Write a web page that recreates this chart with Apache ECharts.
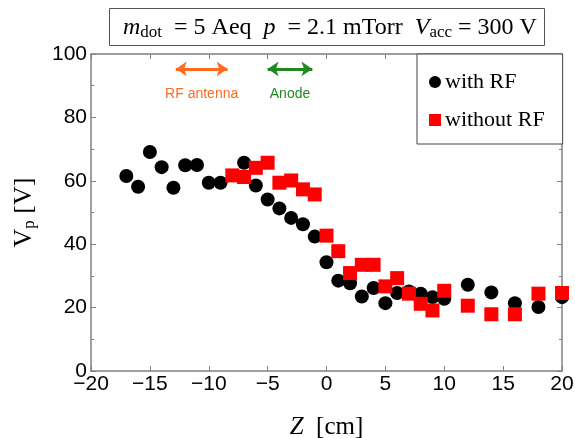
<!DOCTYPE html>
<html>
<head>
<meta charset="utf-8">
<script src="https://cdn.jsdelivr.net/npm/echarts@6/dist/echarts.min.js"></script>
<style>html,body{margin:0;padding:0;background:#fff}#c{width:575px;height:438px}</style>
</head>
<body>
<div id="c"></div>
<script>
// Data
var zWithRF = [-17, -16, -15, -14, -13, -12, -11, -10, -9, -7, -6, -5, -4, -3, -2, -1, 0, 1, 2, 3, 4, 5, 6, 7, 8, 9, 10, 12, 14, 16, 18, 20];
var vpWithRF = [61.5, 58.1, 69.1, 64.3, 57.8, 64.9, 65.0, 59.4, 59.4, 65.7, 58.5, 54.1, 51.3, 48.3, 46.3, 42.4, 34.3, 28.5, 27.7, 23.5, 26.2, 21.4, 24.6, 25.1, 24.4, 23.3, 22.8, 27.2, 24.8, 21.4, 20.2, 23.3];
var zWithoutRF = [-8, -7, -6, -5, -4, -3, -2, -1, 0, 1, 2, 3, 4, 5, 6, 7, 8, 9, 10, 12, 14, 16, 18, 20];
var vpWithoutRF = [61.7, 61.2, 64.1, 65.7, 59.4, 60.1, 57.3, 55.7, 42.7, 37.8, 30.9, 33.5, 33.5, 26.7, 29.3, 24.4, 21.2, 19.1, 25.3, 20.6, 17.9, 17.9, 24.4, 24.6];
var xTicks = [-20, 20, 5];
var yTicks = [0, 100, 20];
var rfAntenna = [-12.8, -8.4, 95.3];
var anode = [-5.0, -1.2, 95.3];

function pairs(xs, ys) { return xs.map(function (x, i) { return [x, ys[i]]; }); }
function minus(v) { return String(v).replace('-', '\u2212'); }

var axisColor = '#808080';
var chart = echarts.init(document.getElementById('c'));
var serif = '"Liberation Serif", "DejaVu Serif", serif';
var sans = '"Liberation Sans", Arial, sans-serif';

chart.setOption({
  animation: false,
  backgroundColor: '#fff',
  title: {
    left: 109, top: 9,
    borderColor: '#555', borderWidth: 1,
    padding: [6, 8, 4, 14],
    text: '{i|m}{s|dot}{n|  = 5 Aeq  }{i|p}{n|  = 2.1 mTorr  }{i|V}{s|acc}{n| = 300 V}',
    textStyle: {
      fontWeight: 'normal',
      rich: {
        n: { fontFamily: serif, fontSize: 24, fontWeight: 'normal', color: '#000', lineHeight: 26 },
        i: { fontFamily: serif, fontSize: 24, fontWeight: 'normal', fontStyle: 'italic', color: '#000', lineHeight: 26 },
        s: { fontFamily: serif, fontSize: 17, fontWeight: 'normal', color: '#000', padding: [10, 0, 0, 0], lineHeight: 26 }
      }
    }
  },
  grid: { left: 91, right: 13, top: 54, bottom: 67, outerBoundsMode: 'none', containLabel: false },
  legend: {
    orient: 'vertical',
    left: 417, top: 54,
    padding: [17, 18, 13, 12],
    itemGap: 16,
    itemWidth: 12, itemHeight: 12,
    borderColor: '#444', borderWidth: 1,
    backgroundColor: '#fff',
    textStyle: { fontFamily: serif, fontSize: 22, color: '#000', padding: [0, 0, 0, -1] },
    data: [
      { name: 'with RF', icon: 'circle' },
      { name: 'without RF', icon: 'rect' }
    ]
  },
  xAxis: [{
    type: 'value', min: xTicks[0], max: xTicks[1], interval: xTicks[2],
    position: 'bottom',
    name: '{i|Z}{n|  [cm]}', nameLocation: 'middle', nameGap: 44,
    nameTextStyle: {
      rich: {
        i: { fontFamily: serif, fontSize: 25, fontStyle: 'italic', color: '#000' },
        n: { fontFamily: serif, fontSize: 25, color: '#000' }
      }
    },
    axisLine: { show: true, onZero: false, lineStyle: { color: axisColor, width: 1.5 } },
    axisTick: { inside: true, length: 5, lineStyle: { color: axisColor } },
    axisLabel: { fontFamily: sans, fontSize: 21, color: '#000', margin: 3, formatter: minus },
    splitLine: { show: false }
  }, {
    type: 'value', min: xTicks[0], max: xTicks[1], interval: xTicks[2],
    position: 'top',
    axisLine: { show: true, onZero: false, lineStyle: { color: axisColor, width: 1.5 } },
    axisTick: { inside: true, length: 5, lineStyle: { color: axisColor } },
    axisLabel: { show: false }, splitLine: { show: false }
  }],
  yAxis: [{
    type: 'value', min: yTicks[0], max: yTicks[1], interval: yTicks[2],
    position: 'left',
    name: '{n|V}{s|p}{n| [V]}', nameLocation: 'middle', nameGap: 52, nameRotate: 90,
    nameTextStyle: {
      rich: {
        n: { fontFamily: serif, fontSize: 26, color: '#000', lineHeight: 30 },
        s: { fontFamily: serif, fontSize: 17, color: '#000', padding: [12, 0, 0, 0], lineHeight: 30 }
      }
    },
    axisLine: { show: true, onZero: false, lineStyle: { color: axisColor, width: 1.5 } },
    axisTick: { inside: true, length: 5, lineStyle: { color: axisColor } },
    minorTick: { show: true, splitNumber: 2, length: 3, lineStyle: { color: axisColor } },
    axisLabel: { fontFamily: sans, fontSize: 21, color: '#000', margin: 4 },
    splitLine: { show: false }, minorSplitLine: { show: false }
  }, {
    type: 'value', min: yTicks[0], max: yTicks[1], interval: yTicks[2],
    position: 'right',
    axisLine: { show: true, onZero: false, lineStyle: { color: axisColor, width: 1.5 } },
    axisTick: { inside: true, length: 5, lineStyle: { color: axisColor } },
    minorTick: { show: true, splitNumber: 2, length: 3, lineStyle: { color: axisColor } },
    axisLabel: { show: false }, splitLine: { show: false }, minorSplitLine: { show: false }
  }],
  series: [{
    name: 'with RF', type: 'scatter', symbol: 'circle', symbolSize: 14,
    itemStyle: { color: '#000', opacity: 1 },
    data: pairs(zWithRF, vpWithRF), z: 3
  }, {
    name: 'without RF', type: 'scatter', symbol: 'rect', symbolSize: 14,
    itemStyle: { color: '#ff0000', opacity: 1 },
    data: pairs(zWithoutRF, vpWithoutRF), z: 4
  }, {
    name: 'annotations', type: 'scatter', data: [], silent: true,
    markLine: {
      silent: true, animation: false,
      symbol: ['arrow', 'arrow'], symbolSize: [11, 11],
      data: [
        [{ coord: [rfAntenna[0], rfAntenna[2]], lineStyle: { color: '#ff6a1f', width: 3 },
           label: { show: true, position: 'insideMiddleBottom', distance: 18, formatter: 'RF antenna', color: '#ff6a1f', fontFamily: sans, fontSize: 14 },
           itemStyle: { color: '#ff6a1f' } },
         { coord: [rfAntenna[1], rfAntenna[2]] }],
        [{ coord: [anode[0], anode[2]], lineStyle: { color: '#1f8a1f', width: 3 },
           label: { show: true, position: 'insideMiddleBottom', distance: 18, formatter: 'Anode', color: '#1f8a1f', fontFamily: sans, fontSize: 14 },
           itemStyle: { color: '#1f8a1f' } },
         { coord: [anode[1], anode[2]] }]
      ],
      lineStyle: { type: 'solid' }
    }
  }]
});
</script>
</body>
</html>
